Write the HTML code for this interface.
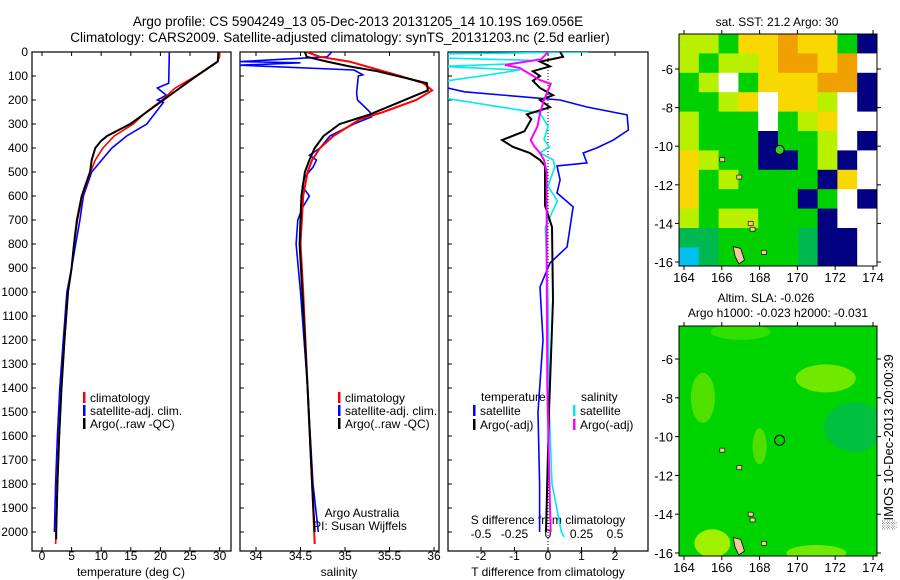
<!DOCTYPE html>
<html><head><meta charset="utf-8">
<style>
html,body{margin:0;padding:0;background:#fff;}
svg{display:block;font-family:"Liberation Sans",sans-serif;}
</style></head>
<body>
<svg id="fig" width="900" height="580" viewBox="0 0 900 580" xmlns="http://www.w3.org/2000/svg">
<defs>
<clipPath id="c1"><rect x="32" y="52" width="199" height="499"/></clipPath>
<clipPath id="c2"><rect x="240" y="52" width="199" height="499"/></clipPath>
<clipPath id="c3"><rect x="448" y="52" width="200" height="499"/></clipPath>
<clipPath id="cm1"><rect x="679" y="34" width="198" height="232"/></clipPath>
<clipPath id="cm2"><rect x="679" y="326" width="198" height="230"/></clipPath>
</defs>
<text x="358" y="26" font-size="13.5" text-anchor="middle">Argo profile: CS 5904249_13 05-Dec-2013 20131205_14 10.19S 169.056E</text>
<text x="340" y="42" font-size="13.5" text-anchor="middle">Climatology: CARS2009. Satellite-adjusted climatology: synTS_20131203.nc (2.5d earlier)</text>
<g id="g"></g>
</svg>
<script>
// ---- data ----
const tClimDepth=[0,20,40,100,150,200,250,300,350,400,450,500,600,700,800,900,1000,1200,1400,1600,1800,2000,2050];
const tClimVal=[30,30,29.6,26,22.5,20.3,17.6,15.4,12.2,10.3,9.0,8.2,6.8,6.0,5.4,5.0,4.4,3.8,3.3,2.9,2.6,2.4,2.3];
const tSatDepth=[0,130,150,180,200,210,300,350,400,450,500,600,700,800,900,1000,1200,1400,1600,1800,2000];
const tSatVal=[21.5,21.4,19.5,21,19.5,20.5,17.7,14.3,11.8,10.1,8.4,7.0,6.4,5.7,5.0,4.2,3.6,3.0,2.6,2.3,2.1];
const tArgoDepth=[0,40,100,200,250,300,350,370,400,450,500,600,700,800,900,1000,1200,1400,1600,1800,2000,2030];
const tArgoVal=[29.8,29.7,26.1,20.5,17.7,14.9,11,10,9.0,8.4,8.1,6.7,5.9,5.4,5.0,4.4,3.8,3.3,2.9,2.6,2.4,2.4];
const sClimDepth=[0,20,40,80,100,130,160,200,250,280,350,400,450,500,600,800,1000,1400,1800,2050];
const sClimVal=[34.57,34.72,35.05,35.43,35.62,35.88,35.98,35.8,35.43,35.17,34.87,34.72,34.63,34.58,34.53,34.5,34.53,34.58,34.63,34.66];
const sSatDepth=[0,20,40,45,55,75,95,100,170,200,250,270,300,350,400,430,450,480,520,560,600,650,700,800,1000,1400,1800,2000];
const sSatVal=[34.85,34.8,33.82,34.5,33.82,35.1,35.2,35.15,35.13,35.14,35.28,35.3,35.1,34.83,34.72,34.6,34.68,34.64,34.55,34.52,34.6,34.52,34.47,34.45,34.5,34.58,34.64,34.7];
const sArgoDepth=[0,20,40,60,80,110,130,160,180,220,260,300,350,400,450,500,600,800,1000,1400,1800,2000];
const sArgoVal=[34.55,34.57,34.8,35.05,35.36,35.7,35.92,35.93,35.8,35.54,35.28,34.94,34.76,34.66,34.6,34.55,34.51,34.49,34.52,34.58,34.63,34.66];
const dTSatDepth=[150,166,200,229,262,325,367,400,421,462,475,533,587,645,729,812,879,979,1200,1500,1800,2000];
const dTSatVal=[-3,-2.5,0.36,1.16,2.36,2.4,1.95,1.45,1.05,1.16,0.27,0.36,0.27,0.75,0.66,0.57,0.06,-0.24,-0.15,-0.3,-0.25,-0.25];
const dTArgoDepth=[0,20,40,60,80,100,120,150,180,200,230,260,280,330,367,395,421,450,475,640,729,1033,1500,2000];
const dTArgoVal=[0.36,0.45,-0.24,0.06,-0.45,-0.24,-0.45,-0.24,0.15,-0.24,0.06,-0.63,-0.5,-0.7,-1.37,-1.05,-0.54,-0.24,-0.09,-0.09,0.12,0.15,0.03,-0.06];
const dSSatDepth=[0,8,25,35,50,60,75,100,120,190,255,310,365,395,420,450,480,560,620,730,1030,1500,1800,2000,2020];
const dSSatVal=[0.3,-0.8,-0.8,-0.1,-0.3,-0.8,-0.21,-0.5,-0.75,-0.8,-0.06,0,-0.03,0.01,-0.06,0.04,0.05,0,0.07,-0.02,0,0.01,0.03,0.1,0.12];
const dSArgoDepth=[0,30,54,67,117,133,200,255,312,367,395,421,450,500,900,1400,1900,2000];
const dSArgoVal=[0,-0.05,-0.32,-0.21,-0.06,0.02,-0.03,-0.06,-0.08,-0.13,-0.1,-0.06,-0.03,-0.01,-0.01,-0.005,0.015,0.02];
const depthTicks=[0,100,200,300,400,500,600,700,800,900,1000,1100,1200,1300,1400,1500,1600,1700,1800,1900,2000];
const tTicks=[0,5,10,15,20,25,30];
const sTicks=[34,34.5,35,35.5,36];
const dTTicks=[-2,-1,0,1,2];
const dSTicks=[-0.5,-0.25,0,0.25,0.5];
const lonTicks=[164,166,168,170,172,174];
const latTicks=[-6,-8,-10,-12,-14,-16];
const sstGrid=["LLGYYOYYGB","LGLLYOOYOW","GLWGYYYOOB","GGLYWYYLWB","LGGGWGLYWW","LGGGBGGLWB","YLGGBBGLBW","YGLGGGGBYW","YGGGGGBGWB","LGLLGGGBWW","ggGGGGgBBW","CgGGGGgBBW"];
// ---- scales ----
const yD=d=>52+d*0.24;
const xT=t=>42+t*5.92;
const xS=s=>256+(s-34)*89;
const xdT=v=>548+v*33.5;
const xdS=v=>548+v*134;
const mx=lon=>684+(lon-164)*18.9;
const my1=lat=>69+(-6-lat)*19.3;
const my2=lat=>359+(-6-lat)*19.4;
const NS="http://www.w3.org/2000/svg";
const G=document.getElementById('g');
function mk(tag,attrs,parent){const e=document.createElementNS(NS,tag);for(const k in attrs)e.setAttribute(k,attrs[k]);(parent||G).appendChild(e);return e;}
function txt(x,y,s,anchor,size){const e=mk('text',{x:x,y:y,'font-size':size||12,'text-anchor':anchor||'start'});e.textContent=s;return e;}
function line(dep,val,xf,color,w,clip,name){
  const pts=dep.map((d,i)=>xf(val[i]).toFixed(1)+','+yD(d).toFixed(1)).join(' ');
  const p=mk('polyline',{points:pts,fill:'none',stroke:color,'stroke-width':w,'clip-path':'url(#'+clip+')'});
  
  
}
// panels
const panels=[[32,'c1','temperature-panel'],[240,'c2','salinity-panel'],[448,'c3','difference-panel']];
panels.forEach(([x,c,n],i)=>{
  const r=mk('rect',{x:x,y:52,width:i==2?200:199,height:499,fill:'none',stroke:'#000','stroke-width':1.2});
  
  
});
// depth ticks
depthTicks.forEach(d=>{
  const t=txt(28,yD(d)+4,String(d),'end',12);
  
  
  panels.forEach(([x])=>{mk('line',{x1:x,x2:x+4,y1:yD(d),y2:yD(d),stroke:'#000'});});
});
const TLY=560;
tTicks.forEach(v=>{mk('line',{x1:xT(v),x2:xT(v),y1:551,y2:547,stroke:'#000'});mk('line',{x1:xT(v),x2:xT(v),y1:52,y2:56,stroke:'#000'});
  const t=txt(xT(v),TLY,String(v),'middle');});
sTicks.forEach(v=>{mk('line',{x1:xS(v),x2:xS(v),y1:551,y2:547,stroke:'#000'});mk('line',{x1:xS(v),x2:xS(v),y1:52,y2:56,stroke:'#000'});
  const t=txt(xS(v),TLY,String(v),'middle');});
dTTicks.forEach(v=>{mk('line',{x1:xdT(v),x2:xdT(v),y1:52,y2:56,stroke:'#000'});mk('line',{x1:xdT(v),x2:xdT(v),y1:547,y2:551,stroke:'#000'});
  const t=txt(xdT(v),TLY,String(v),'middle');});
dSTicks.forEach(v=>{const t=txt(xdS(v),538,String(v),'middle');});
let t;
t=txt(131,576,'temperature (deg C)','middle');
t=txt(339,576,'salinity','middle');
t=txt(548,576,'T difference from climatology','middle');
t=txt(548,524,'S difference from climatology','middle');
// zero dotted line
mk('line',{x1:548,x2:548,y1:52,y2:551,stroke:'#000','stroke-dasharray':'1,2'});
// series
line(tSatDepth,tSatVal,xT,'#0000ff',1.6,'c1','temp-satellite-line');
line(tClimDepth,tClimVal,xT,'#ff0000',1.6,'c1','temp-climatology-line');
line(tArgoDepth,tArgoVal,xT,'#000',2,'c1','temp-argo-line');
line(sSatDepth,sSatVal,xS,'#0000ff',1.6,'c2','sal-satellite-line');
line(sClimDepth,sClimVal,xS,'#ff0000',2,'c2','sal-climatology-line');
line(sArgoDepth,sArgoVal,xS,'#000',2,'c2','sal-argo-line');
line(dSSatDepth,dSSatVal,xdS,'#00e8f0',1.6,'c3','s-diff-satellite-line');
line(dTSatDepth,dTSatVal,xdT,'#0000ff',1.6,'c3','t-diff-satellite-line');
line(dTArgoDepth,dTArgoVal,xdT,'#000',2,'c3','t-diff-argo-line');
line(dSArgoDepth,dSArgoVal,xdS,'#ff00ff',2,'c3','s-diff-argo-line');
// legends
function leg(x,y,c,s,n){mk('rect',{x:x,y:y-10,width:2.5,height:11,fill:c});const e=txt(x+7,y,s);}
leg(83,402,'#ff0000','climatology','legend-climatology');
leg(83,415,'#0000ff','satellite-adj. clim.','legend-satellite');
leg(83,428,'#000','Argo(..raw -QC)','legend-argo');
leg(338,402,'#ff0000','climatology','legend-climatology-2');
leg(338,415,'#0000ff','satellite-adj. clim.','legend-satellite-2');
leg(338,428,'#000','Argo(..raw -QC)','legend-argo-2');
t=txt(481,401,'temperature');
t=txt(581,401,'salinity');
leg(473,415,'#0000ff','satellite','legend-t-satellite');
leg(473,429,'#000','Argo(-adj)','legend-t-argo');
leg(573,415,'#00e8f0','satellite','legend-s-satellite');
leg(573,429,'#ff00ff','Argo(-adj)','legend-s-argo');
t=txt(362,517,'Argo Australia','middle');
t=txt(360,530,'PI: Susan Wijffels','middle');
// maps
const col={O:'#f0a000',Y:'#f8d800',L:'#b8f000',G:'#00d000',g:'#00b850',B:'#000080',W:'#ffffff',C:'#00c0f0'};
const m1=mk('g',{'clip-path':'url(#cm1)'});


sstGrid.forEach((row,r)=>{[...row].forEach((ch,c)=>{mk('rect',{x:679+c*19.8,y:34+r*19.4,width:20.3,height:19.9,fill:col[ch]},m1);});});
const m2=mk('g',{'clip-path':'url(#cm2)'});


mk('rect',{x:679,y:326,width:198,height:230,fill:'#00d400'},m2);
[[mx(171.5),my2(-7),30,14,'#70e800'],[mx(165),my2(-8),12,25,'#50e000'],[mx(165.5),my2(-15.5),18,14,'#a0f000'],[mx(168),my2(-10.5),7,18,'#50e000'],[mx(173),my2(-9.5),30,25,'#00c040'],[mx(171),my2(-16),30,8,'#70e800'],[mx(167),my2(-4.6),30,8,'#30e000']].forEach(([cx,cy,rx,ry,f])=>{mk('ellipse',{cx:cx,cy:cy,rx:rx,ry:ry,fill:f},m2);});
// islands
[[my1,'cm1'],[my2,'cm2']].forEach(([fy,c])=>{
  const isl=mk('polygon',{points:[[166.6,-15.2],[167,-15.3],[167.2,-15.9],[166.9,-16.1],[166.7,-15.7]].map(p=>mx(p[0])+','+fy(p[1])).join(' '),fill:'#f5c8a0',stroke:'#000','stroke-width':0.8,'clip-path':'url(#'+c+')'});
  
  
  [[166,-10.7],[166.9,-11.6],[167.6,-14.3],[168.2,-15.5],[167.5,-14]].forEach(p=>{mk('rect',{x:mx(p[0])-2,y:fy(p[1])-2,width:5,height:4,fill:'#f5c8a0',stroke:'#000','stroke-width':0.6});});
});
const dot=mk('circle',{cx:mx(169.06),cy:my1(-10.19),r:4.5,fill:'#30d030',stroke:'#000'});


const ring=mk('circle',{cx:mx(169.06),cy:my2(-10.19),r:5,fill:'none',stroke:'#000'});


[[34,266,my1,'sst'],[326,556,my2,'sla']].forEach(([top,bot,fy,n])=>{
  mk('rect',{x:679,y:top,width:198,height:bot-top,fill:'none',stroke:'#000'});
  lonTicks.forEach(v=>{mk('line',{x1:mx(v),x2:mx(v),y1:bot,y2:bot+4,stroke:'#000'});mk('line',{x1:mx(v),x2:mx(v),y1:top,y2:top-4,stroke:'#000'});
    const e=txt(mx(v),bot+16,String(v),'middle',13);});
  latTicks.forEach(v=>{mk('line',{x1:675,x2:679,y1:fy(v),y2:fy(v),stroke:'#000'});mk('line',{x1:877,x2:881,y1:fy(v),y2:fy(v),stroke:'#000'});
    const e=txt(673,fy(v)+5,String(v),'end',13);});
});
t=txt(777,26,'sat. SST: 21.2 Argo: 30','middle');
t=txt(766,302,'Altim. SLA: -0.026','middle');
t=txt(778,317,'Argo h1000: -0.023 h2000: -0.031','middle');
t=txt(0,0,'\u2591IMOS 10-Dec-2013 20:00:39','middle',13);t.setAttribute('transform','translate(893,442) rotate(-90)');


</script>
</body></html>
